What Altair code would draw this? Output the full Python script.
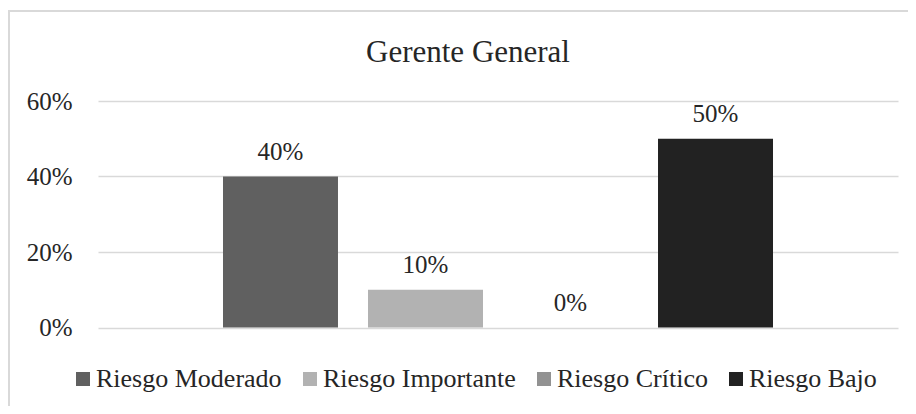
import altair as alt
import pandas as pd

series = ["Riesgo Moderado", "Riesgo Importante", "Riesgo Crítico", "Riesgo Bajo"]
values = [0.40, 0.10, 0.00, 0.50]
colors = ["#606060", "#b2b2b2", "#929292", "#222222"]
y_ticks = [0, 0.2, 0.4, 0.6]

df = pd.DataFrame({"serie": series, "valor": values})
FONT = "Liberation Serif"
TXT = "#262626"

frame = alt.Chart(df).mark_rect(fill=None, stroke="#d9d9d9", strokeWidth=2).encode(
    x=alt.value(-89), x2=alt.value(950), y=alt.value(-90), y2=alt.value(450)
)

base = alt.Chart(df).encode(
    x=alt.X("serie:N", sort=series, axis=None,
            scale=alt.Scale(paddingInner=0.207, paddingOuter=0.862)),
    y=alt.Y("valor:Q", scale=alt.Scale(domain=[0, 0.6], nice=False),
            axis=alt.Axis(values=y_ticks, format=".0%", title=None, domain=False,
                          ticks=False, labelPadding=26, labelFont=FONT,
                          labelFontSize=25, labelColor=TXT, gridColor="#d9d9d9",
                          gridWidth=1.5)),
)

bars = base.mark_bar().encode(
    color=alt.Color("serie:N", sort=series,
                    scale=alt.Scale(domain=series, range=colors),
                    legend=alt.Legend(title=None, orient="none", direction="horizontal",
                                      legendX=-28, legendY=265, padding=0,
                                      symbolType="square", symbolSize=196,
                                      symbolStrokeWidth=0, labelFont=FONT,
                                      labelFontSize=26, labelColor=TXT, labelLimit=0,
                                      labelOffset=0, columnPadding=15))
)

labels = base.mark_text(font=FONT, fontSize=25, color=TXT, baseline="alphabetic", dy=-17).encode(
    text=alt.Text("valor:Q", format=".0%")
)

chart = alt.layer(frame, bars, labels).properties(
    width=800, height=226.5,
    title=alt.TitleParams("Gerente General", font=FONT, fontSize=31, fontWeight="normal",
                          color=TXT, anchor="middle", dx=-30, offset=-59,
                          frame="group"),
    autosize=alt.AutoSizeParams(type="none"),
    padding={"left": 90, "top": 93, "right": 10, "bottom": 78.5},
).configure_view(stroke=None)

chart.save("out.html", embed_options={"renderer": "svg", "actions": False})
